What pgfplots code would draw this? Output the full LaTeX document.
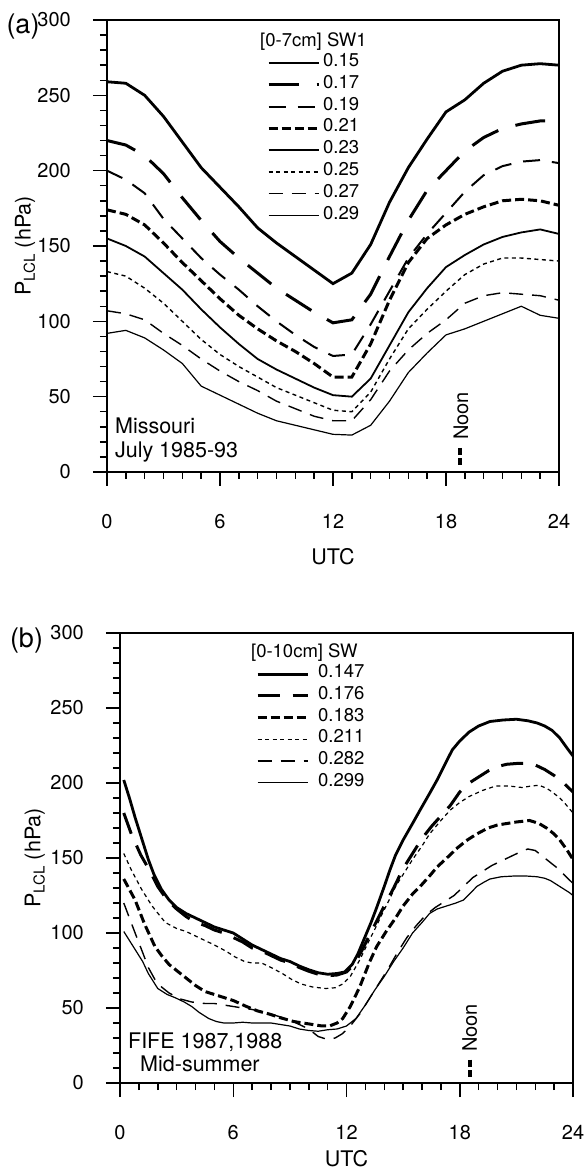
\documentclass[border=0pt]{standalone}
\usepackage{fontspec}
\setmainfont{TeX Gyre Heros}
\usepackage{pgfplots}
\pgfplotsset{compat=1.18}
\tikzset{
  legtxt/.style={font=\fontsize{18.5bp}{21bp}\selectfont},
  a15/.style={black, line width=2.8bp},
  a17/.style={black, line width=3bp, dash pattern=on 30bp off 18bp},
  a19/.style={black, line width=2bp, dash pattern=on 17bp off 12bp},
  a21/.style={black, line width=3bp, dash pattern=on 9bp off 4bp},
  a23/.style={black, line width=1.8bp},
  a25/.style={black, line width=1.4bp, dash pattern=on 4bp off 3.5bp},
  a27/.style={black, line width=1.4bp, dash pattern=on 14bp off 9bp},
  a29/.style={black, line width=1.2bp},
  b176/.style={black, line width=3bp, dash pattern=on 22bp off 13bp},
  b211/.style={black, line width=1.2bp, dash pattern=on 4bp off 3.5bp},
  noonmark/.style={black, line width=3.5bp, dash pattern=on 7bp off 3.5bp},
}
\pgfplotsset{
  panel/.style={
    scale only axis, anchor=south west,
    xmin=0, xmax=24, ymin=0, ymax=300,
    xtick={0,6,...,24}, ytick={0,50,...,300},
    minor x tick num=5, minor y tick num=4,
    tick align=outside, xtick pos=bottom, ytick pos=left,
    major tick length=14bp, minor tick length=7bp,
    tick style={line width=1.5bp, black},
    axis line style={line width=1.5bp},
    /pgf/number format/assume math mode=true,
    tick label style={font=\fontsize{20bp}{23bp}\selectfont},
    yticklabel style={inner sep=0pt, xshift=-22bp},
    xticklabel style={inner sep=0pt, yshift=-28bp},
    label style={font=\fontsize{21.5bp}{24bp}\selectfont},
    legend image code/.code={\draw[##1] (0bp,0bp) -- (50bp,0bp);},
    legend cell align=left,
  },
}
\begin{document}
\begin{tikzpicture}
\useasboundingbox (0,0) rectangle (586bp,1173bp);
% ---------------- panel (a)
\begin{axis}[panel, at={(107bp,701bp)}, width=452bp, height=452bp,
  xlabel={UTC}, ylabel={P\textsubscript{LCL} (hPa)},
  xlabel style={at={(axis description cs:0.5,-0.188)}, anchor=center},
  ylabel style={at={(axis description cs:-0.181,0.5)}, anchor=center},
  legend style={at={(0.354,0.9296)}, anchor=north west, draw=none, fill=none,
    inner sep=0pt, row sep=0pt, column sep=2bp,
    font=\fontsize{18.5bp}{21bp}\selectfont,
    nodes={inner sep=1bp, text height=13.5bp, text depth=6.3bp}},
]
\addplot[a15] coordinates {(0,259)(1,258)(2,250)(3,236)(4,219)(5,202)(6,189)(7,176)(8,162)(9,152)(10,143)(11,134)(12,125)(13,132)(14,151)(15,179)(16,202)(17,221)(18,239)(19,247)(20,258)(21,266)(22,270)(23,271)(24,270)};
\addlegendentry{0.15}
\addplot[a17] coordinates {(0,220)(1,217)(2,210)(3,198)(4,182)(5,167)(6,153)(7,142)(8,132)(9,122)(10,114)(11,106)(12,99)(13,101)(14,118)(15,143)(16,167)(17,187)(18,200)(19,213)(20,222)(21,228)(22,231)(23,233)(24,233)};
\addlegendentry{0.17}
\addplot[a19] coordinates {(0,200)(1,194)(2,185)(3,168)(4,155)(5,142)(6,131)(7,121)(8,110)(9,100)(10,91)(11,83)(12,77)(13,78)(14,98)(15,120)(16,142)(17,158)(18,172)(19,186)(20,197)(21,203)(22,206)(23,207)(24,205)};
\addlegendentry{0.19}
\addplot[a21] coordinates {(0,174)(1,171)(2,164)(3,152)(4,139)(5,127)(6,115)(7,104)(8,95)(9,87)(10,80)(11,72)(12,63)(13,63)(14,85)(15,114)(16,139)(17,155)(18,164)(19,171)(20,176)(21,180)(22,181)(23,180)(24,177)};
\addlegendentry{0.21}
\addplot[a23] coordinates {(0,155)(1,150)(2,143)(3,132)(4,121)(5,108)(6,96)(7,85)(8,75)(9,68)(10,62)(11,56)(12,51)(13,50)(14,62)(15,84)(16,106)(17,122)(18,136)(19,144)(20,151)(21,156)(22,159)(23,161)(24,158)};
\addlegendentry{0.23}
\addplot[a25] coordinates {(0,133)(1,130)(2,122)(3,112)(4,100)(5,88)(6,78)(7,70)(8,63)(9,56)(10,51)(11,46)(12,41)(13,40)(14,53)(15,75)(16,95)(17,108)(18,120)(19,131)(20,138)(21,142)(22,142)(23,141)(24,140)};
\addlegendentry{0.25}
\addplot[a27] coordinates {(0,107)(1,105)(2,101)(3,92)(4,84)(5,75)(6,67)(7,60)(8,54)(9,47)(10,42)(11,37)(12,34)(13,34)(14,48)(15,67)(16,81)(17,92)(18,101)(19,112)(20,117)(21,119)(22,118)(23,117)(24,114)};
\addlegendentry{0.27}
\addplot[a29] coordinates {(0,92)(1,94)(2,89)(3,81)(4,72)(5,57)(6,51)(7,45)(8,39)(9,34)(10,31)(11,28)(12,25)(13,24.5)(14,31)(15,47)(16,66)(17,79)(18,91)(19,95)(20,100)(21,105)(22,110)(23,104)(24,102)};
\addlegendentry{0.29}
\addplot[noonmark, forget plot] coordinates {(18.75,16)(18.75,4.7)};
\node[anchor=west, inner sep=0pt, legtxt] at (axis description cs:0.3385,0.952) {[0-7cm] SW1};
\node[rotate=90, inner sep=0pt, font=\fontsize{20bp}{23bp}\selectfont] at (axis cs:18.79,37.3) {Noon};
\node[anchor=base west, inner sep=0pt, font=\fontsize{21.5bp}{24bp}\selectfont] at (axis cs:0.42,25.7) {Missouri};
\node[anchor=base west, inner sep=0pt, font=\fontsize{21.5bp}{24bp}\selectfont] at (axis cs:0.42,9.8) {July 1985-93};
\end{axis}
% ---------------- panel (b)
\begin{axis}[panel, at={(120bp,90bp)}, width=453bp, height=450bp,
  xlabel={UTC}, ylabel={P\textsubscript{LCL} (hPa)},
  xlabel style={at={(axis description cs:0.5,-0.168)}, anchor=center},
  ylabel style={at={(axis description cs:-0.188,0.5)}, anchor=center},
  legend style={at={(0.300,0.933)}, anchor=north west, draw=none, fill=none,
    inner sep=0pt, row sep=0pt, column sep=8bp,
    font=\fontsize{18.5bp}{21bp}\selectfont,
    nodes={inner sep=1bp, text height=13.5bp, text depth=6.2bp}},
]
\addplot[a15] coordinates {(0.2,202)(0.5,190)(0.8,177)(1.2,161)(1.5,149)(1.8,139)(2.2,129)(2.6,122)(3,117)(3.5,113)(4,110)(4.5,107)(5,104)(5.5,102)(6,100)(6.5,96)(7,92)(7.5,89)(8,86)(8.5,83)(9,81)(9.5,78)(10,75.5)(10.5,73.5)(11,72.5)(11.5,73)(11.9,74)(12.3,79)(12.6,86)(12.9,95)(13.3,107)(13.6,117)(14,131)(14.3,142)(14.6,152)(15,162)(15.5,173)(15.9,182)(16.4,193)(16.8,202)(17.2,212)(17.6,222)(18,228)(18.5,234)(19,238)(19.6,241)(20.3,242)(21,242.5)(21.6,241.5)(22.1,240)(22.5,238)(22.9,235)(23.3,230)(23.7,223)(24,218)};
\addlegendentry{0.147}
\addplot[b176] coordinates {(0.2,180)(0.6,166)(1.1,152)(1.6,141)(2,131)(2.5,122)(3,116)(3.5,111)(4,107)(4.5,105)(5,102)(5.5,100)(6,97)(6.5,94)(7,90)(7.5,88)(8,85)(8.5,82)(9,80)(9.5,77)(10,74.5)(10.5,72.5)(11,71.5)(11.5,72)(12,74)(12.4,79)(12.8,88)(13.2,98)(13.6,108)(14,118)(14.5,130)(15,143)(15.5,153)(16,163)(16.5,171)(17,178)(17.5,185)(18,194)(18.5,200)(19,204)(19.5,208)(20,211)(20.5,212.5)(21,213)(21.5,213)(22,212)(22.5,209)(23,205)(23.5,200)(24,194)};
\addlegendentry{0.176}
\addplot[a21] coordinates {(0.2,136)(0.5,129)(0.8,122)(1.3,106)(1.85,91)(2.2,85)(2.6,79)(3,75)(3.4,71)(4,65)(4.5,61)(5,59)(5.5,57)(6,55)(6.7,51)(7.3,48)(7.9,46)(8.5,43.5)(9.2,41)(9.7,40)(10.2,39)(10.7,38)(11.1,38)(11.5,40)(11.8,43)(12.2,51)(12.7,64)(13.2,80)(13.6,91)(14.1,101)(14.6,110)(15,118)(15.5,126)(15.9,131)(16.4,138)(16.8,144)(17.4,151)(17.9,157)(18.4,162)(18.9,166)(19.5,170)(20,172)(20.5,173)(21,174)(21.7,175)(22.2,173)(22.6,170)(23,166)(23.3,162)(23.7,155)(24,149)};
\addlegendentry{0.183}
\addplot[b211] coordinates {(0.2,153)(0.6,142)(1.15,129)(1.7,118)(2.4,107)(3,103)(3.5,101)(4,98)(4.5,95)(5,92)(5.6,88)(6.1,84)(6.6,81)(7,80)(7.5,80)(8,77)(8.6,73)(9.1,69)(9.6,66)(10.2,64)(10.9,63)(11.4,63.5)(11.8,66)(12.2,71)(12.7,82)(13.2,95)(13.6,105)(13.9,113)(14.3,123)(14.6,131)(15,139)(15.5,149)(16,158)(16.4,166)(17,175)(17.5,182)(18,187)(18.5,191)(19.2,195)(19.9,198)(20.6,198)(21.3,197)(21.8,198)(22.2,198.5)(22.6,196.5)(22.9,194)(23.3,190)(23.6,186)(24,180)};
\addlegendentry{0.211}
\addplot[a27] coordinates {(0.2,120)(0.5,110)(0.8,100)(1.2,87)(1.5,77)(1.85,69)(2.2,64)(2.6,60)(3.2,56)(3.8,54)(4.5,53)(5,53)(5.5,52)(6,51)(6.5,50)(7,49)(7.5,47.5)(8,46)(8.5,44)(9,42)(9.5,39)(10,36)(10.5,31)(11,29)(11.4,30)(11.8,33)(12.2,38)(12.7,46)(13.2,56)(13.7,66)(14.2,76)(14.7,87)(15.2,97)(15.7,105)(16.2,112)(16.7,117)(17.2,121)(17.7,125)(18.2,131)(18.7,137)(19.2,141)(19.7,145)(20.2,148)(20.7,151)(21.2,154)(21.6,156)(22,155)(22.4,151)(22.8,147)(23.2,143)(23.6,138)(24,133)};
\addlegendentry{0.282}
\addplot[a29] coordinates {(0.2,101)(0.5,95)(0.8,89)(1.2,81)(1.5,73)(2,63)(2.5,59)(2.9,57)(3.4,54)(3.8,51)(4.2,47)(4.7,43)(5.1,41)(5.5,40)(6,40)(6.5,40.5)(7,40)(7.5,40)(8,40)(8.5,39)(9,38)(9.5,36)(10,35)(10.5,34.5)(11,35.5)(11.5,36)(12,38)(12.5,43)(13,52)(13.5,62)(14,71)(14.5,81)(15,90)(15.5,100)(16,107)(16.4,113)(16.8,116)(17.3,118)(17.8,120)(18.2,122)(18.6,127)(18.9,131)(19.3,134)(19.6,136)(20.2,137.5)(20.9,138)(21.5,138)(22.1,137.5)(22.5,136.5)(22.8,135)(23.3,131)(23.8,127)(24,125)};
\addlegendentry{0.299}
\addplot[noonmark, forget plot] coordinates {(18.55,15.6)(18.55,3.3)};
\node[anchor=west, inner sep=0pt, legtxt] at (axis description cs:0.289,0.9556) {[0-10cm] SW};
\node[rotate=90, inner sep=0pt, font=\fontsize{20bp}{23bp}\selectfont] at (axis cs:18.53,36.7) {Noon};
\node[anchor=base west, inner sep=0pt, font=\fontsize{21.5bp}{24bp}\selectfont] at (axis cs:0.42,22.9) {FIFE 1987,1988};
\node[anchor=base west, inner sep=0pt, font=\fontsize{21.5bp}{24bp}\selectfont] at (axis cs:1.06,7.8) {Mid-summer};
\end{axis}
\node[font=\fontsize{27bp}{30bp}\selectfont, inner sep=0pt] at (23bp,1146bp) {(a)};
\node[font=\fontsize{27bp}{30bp}\selectfont, inner sep=0pt] at (26.5bp,532bp) {(b)};
\end{tikzpicture}
\end{document}
